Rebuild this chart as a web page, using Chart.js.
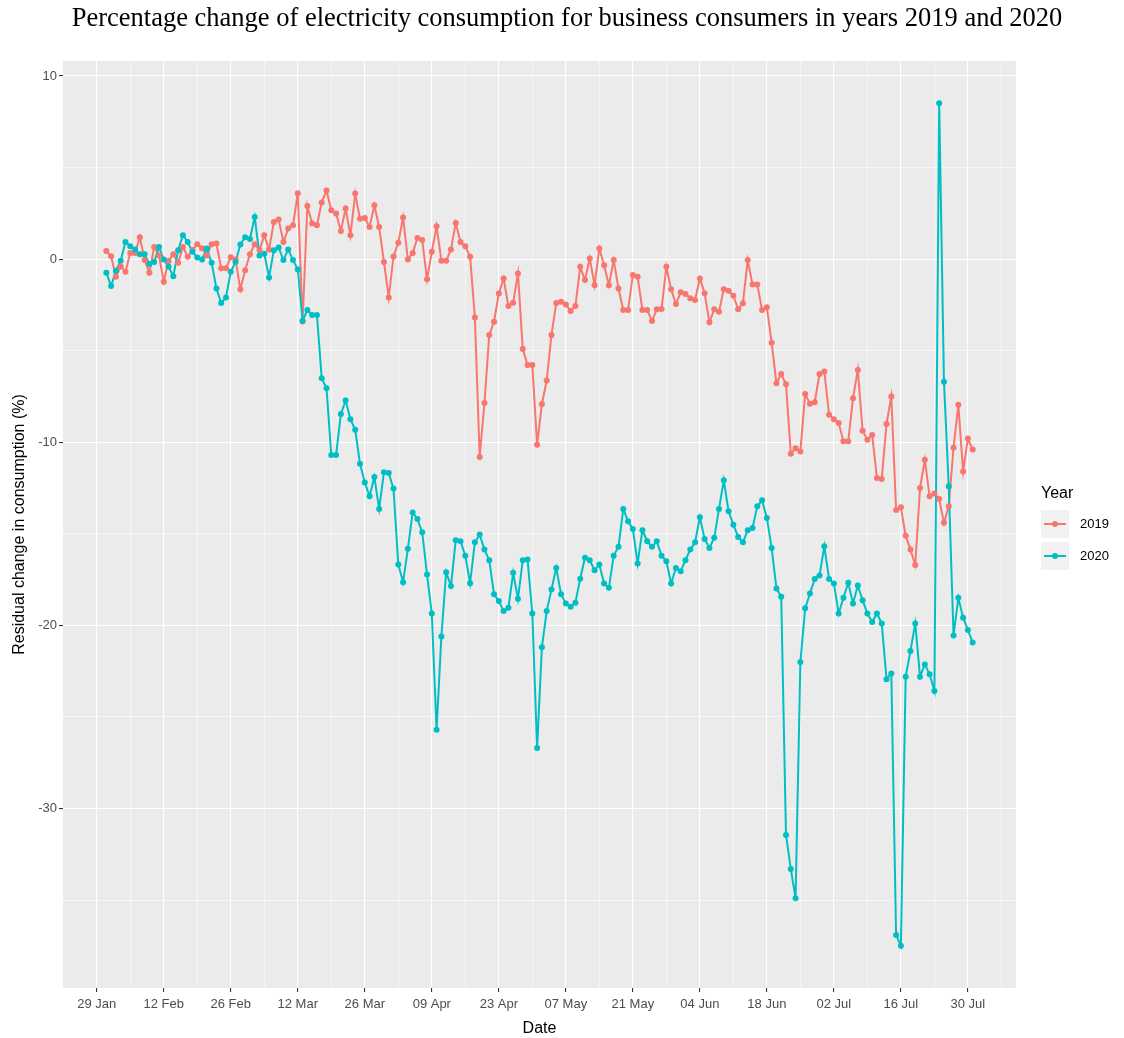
<!DOCTYPE html>
<html>
<head>
<meta charset="utf-8">
<script src="https://cdn.jsdelivr.net/npm/chart.js@4.4.1/dist/chart.umd.min.js"></script>
<style>
  html, body { margin: 0; padding: 0; background: #ffffff; }
  #wrap { width: 1124px; height: 1038px; }
</style>
</head>
<body>
<div id="wrap"><canvas id="chart" width="1124" height="1038"></canvas></div>
<script>
// Days are counted from 29 Jan; both series start on 31 Jan (day 2), one value per day.
const firstDay = 2;
const years = ['2019', '2020'];
const colours = ['#F8766D', '#00BFC4'];

const change2019 = [
  0.45, 0.16, -0.96, -0.4, -0.69, 0.34, 0.34, 1.2, -0.05, -0.74,
  0.67, 0.2, -1.23, -0.1, 0.27, -0.2, 0.67, 0.13, 0.5, 0.82,
  0.6, 0.2, 0.82, 0.85, -0.5, -0.5, 0.1, -0.02, -1.65, -0.6,
  0.27, 0.82, 0.5, 1.3, 0.53, 2.03, 2.16, 0.94, 1.67, 1.85,
  3.6, -3.4, 2.9, 1.95, 1.85, 3.1, 3.75, 2.67, 2.5, 1.54,
  2.76, 1.3, 3.58, 2.2, 2.25, 1.76, 2.94, 1.76, -0.15, -2.09,
  0.15, 0.9, 2.27, -0.02, 0.34, 1.16, 1.04, -1.1, 0.4, 1.8,
  -0.09, -0.09, 0.53, 1.98, 0.94, 0.71, 0.13, -3.18, -10.8, -7.86,
  -4.14, -3.42, -1.87, -1.05, -2.56, -2.38, -0.78, -4.9, -5.78, -5.78,
  -10.14, -7.92, -6.63, -4.14, -2.4, -2.33, -2.47, -2.83, -2.56, -0.42,
  -1.14, 0.04, -1.42, 0.58, -0.33, -1.42, -0.05, -1.6, -2.78, -2.78,
  -0.87, -0.96, -2.78, -2.78, -3.38, -2.74, -2.72, -0.42, -1.65, -2.45,
  -1.81, -1.9, -2.14, -2.23, -1.05, -1.86, -3.45, -2.74, -2.87, -1.65,
  -1.73, -2.0, -2.74, -2.41, -0.05, -1.38, -1.38, -2.78, -2.63, -4.56,
  -6.77, -6.27, -6.83, -10.63, -10.32, -10.5, -7.36, -7.9, -7.81, -6.27,
  -6.14, -8.5, -8.74, -8.95, -9.95, -9.95, -7.59, -6.05, -9.37, -9.86,
  -9.6, -11.95, -12.0, -9.0, -7.5, -13.7, -13.55, -15.1, -15.86, -16.7,
  -12.5, -10.95, -12.95, -12.8, -13.1, -14.4, -13.5, -10.3, -7.95, -11.6,
  -9.8, -10.4
];

const change2020 = [
  -0.74, -1.47, -0.63, -0.09, 0.94, 0.71, 0.53, 0.27, 0.27, -0.27,
  -0.15, 0.67, -0.02, -0.4, -0.93, 0.49, 1.31, 0.94, 0.4, 0.09,
  -0.02, 0.58, -0.2, -1.6, -2.4, -2.09, -0.69, -0.15, 0.8, 1.2,
  1.1, 2.3, 0.2, 0.3, -1.0, 0.49, 0.64, -0.05, 0.53, -0.05,
  -0.56, -3.36, -2.78, -3.05, -3.05, -6.5, -7.05, -10.7, -10.7, -8.46,
  -7.72, -8.74, -9.32, -11.17, -12.19, -12.95, -11.9, -13.64, -11.64, -11.68,
  -12.53, -16.68, -17.64, -15.82, -13.83, -14.19, -14.92, -17.22, -19.35, -25.7,
  -20.6, -17.1, -17.85, -15.35, -15.4, -16.2, -17.7, -15.46, -15.04, -15.86,
  -16.44, -18.3, -18.67, -19.22, -19.04, -17.13, -18.55, -16.44, -16.4, -19.35,
  -26.7, -21.2, -19.22, -18.04, -16.86, -18.3, -18.8, -18.98, -18.76, -17.45,
  -16.31, -16.44, -16.99, -16.68, -17.71, -17.95, -16.19, -15.7, -13.64, -14.31,
  -14.73, -16.62, -14.8, -15.4, -15.71, -15.4, -16.19, -16.5, -17.71, -16.86,
  -17.04, -16.44, -15.86, -15.46, -14.1, -15.28, -15.77, -15.22, -13.64, -12.08,
  -13.77, -14.5, -15.17, -15.46, -14.8, -14.68, -13.5, -13.17, -14.13, -15.77,
  -17.98, -18.44, -31.44, -33.3, -34.9, -22.0, -19.07, -18.26, -17.46, -17.28,
  -15.68, -17.46, -17.71, -19.35, -18.49, -17.67, -18.8, -17.82, -18.62, -19.35,
  -19.82, -19.35, -19.89, -22.94, -22.62, -36.9, -37.5, -22.8, -21.4, -19.89,
  -22.8, -22.13, -22.67, -23.58, 8.52, -6.69, -12.4, -20.55, -18.49, -19.58,
  -20.25, -20.94
];

// Date breaks every 14 days from 29 Jan; minor grid halfway between.
const tickLabels = ['29 Jan', '12 Feb', '26 Feb', '12 Mar', '26 Mar', '09 Apr', '23 Apr',
                    '07 May', '21 May', '04 Jun', '18 Jun', '02 Jul', '16 Jul', '30 Jul'];
const yBreaks = [10, 0, -10, -20, -30];

const titleText = 'Percentage change of electricity consumption for business consumers in years 2019 and 2020';
const xTitle = 'Date';
const yTitle = 'Residual change in consumption (%)';
const legendTitle = 'Year';

const toPoints = vals => vals.map((v, i) => ({ x: firstDay + i, y: v }));
const series = [change2019, change2020];

// ggplot-style: both lines first, then both point layers on top
const datasets = [];
series.forEach((vals, k) => {
  datasets.push({
    label: years[k] + ' line', data: toPoints(vals), borderColor: colours[k],
    borderWidth: 2, pointRadius: 0, pointHoverRadius: 0, tension: 0, order: 10 - k
  });
});
series.forEach((vals, k) => {
  datasets.push({
    label: years[k], data: toPoints(vals), showLine: false, pointRadius: 3,
    pointBackgroundColor: colours[k], pointBorderWidth: 0, pointHoverRadius: 3, order: 5 - k
  });
});

const step = 14;
const dataMin = firstDay, dataMax = firstDay + change2019.length - 1;
const allVals = change2019.concat(change2020);
const yMin = Math.min(...allVals), yMax = Math.max(...allVals);
const xPad = (dataMax - dataMin) * 0.05, yPad = (yMax - yMin) * 0.05;

const sansFont = '"Liberation Sans", Arial, sans-serif';

const panelBg = {
  id: 'panelBg',
  beforeDraw(chart) {
    const { ctx, chartArea: a } = chart;
    ctx.save();
    ctx.fillStyle = '#EBEBEB';
    ctx.fillRect(a.left, a.top, a.right - a.left, a.bottom - a.top);
    ctx.restore();
  }
};

const titleAndLegend = {
  id: 'titleAndLegend',
  afterDraw(chart) {
    const ctx = chart.ctx;
    ctx.save();
    ctx.fillStyle = '#000000';
    ctx.font = '26.5px "Liberation Serif", "Times New Roman", serif';
    ctx.textAlign = 'center';
    ctx.textBaseline = 'middle';
    ctx.fillText(titleText, 567, 19);

    // legend
    ctx.textAlign = 'left';
    ctx.font = '16px ' + sansFont;
    ctx.fillText(legendTitle, 1041, 494);
    const keyX = 1041, keyW = 28, keyH = 28, keyTop0 = 510, gap = 32;
    years.forEach((y, k) => {
      const top = keyTop0 + k * gap;
      ctx.fillStyle = '#F2F2F2';
      ctx.fillRect(keyX, top, keyW, keyH);
      const cy = top + keyH / 2;
      ctx.strokeStyle = colours[k];
      ctx.lineWidth = 2;
      ctx.beginPath();
      ctx.moveTo(keyX + 3, cy);
      ctx.lineTo(keyX + keyW - 3, cy);
      ctx.stroke();
      ctx.fillStyle = colours[k];
      ctx.beginPath();
      ctx.arc(keyX + keyW / 2, cy, 3, 0, Math.PI * 2);
      ctx.fill();
      ctx.fillStyle = '#000000';
      ctx.font = '13px ' + sansFont;
      ctx.fillText(y, keyX + keyW + 11, cy);
    });
    ctx.restore();
  }
};

new Chart(document.getElementById('chart'), {
  type: 'line',
  data: { datasets },
  plugins: [panelBg, titleAndLegend],
  options: {
    responsive: false,
    animation: false,
    devicePixelRatio: 1,
    layout: { padding: { left: 0, top: 61, right: 108, bottom: 0 } },
    plugins: { legend: { display: false }, tooltip: { enabled: false }, title: { display: false } },
    scales: {
      x: {
        type: 'linear',
        min: dataMin - xPad,
        max: dataMax + xPad,
        afterBuildTicks(s) {
          const t = [];
          for (let v = 0; v <= s.max; v += step / 2) t.push({ value: v });
          s.ticks = t;
        },
        afterFit(s) { s.height = 50; },
        border: { display: false },
        grid: {
          color: '#FFFFFF',
          lineWidth: c => (c.tick && c.tick.value % step === 0 ? 1.1 : 0.55),
          drawTicks: true,
          tickLength: 4,
          tickWidth: 1.1,
          tickColor: c => (c.tick && c.tick.value % step === 0 ? '#333333' : 'rgba(0,0,0,0)')
        },
        ticks: {
          autoSkip: false, maxRotation: 0, padding: 5,
          color: '#4D4D4D', font: { family: sansFont, size: 13 },
          callback: v => (v % step === 0 ? tickLabels[v / step] : '')
        },
        title: {
          display: true, text: xTitle, color: '#000000',
          font: { family: sansFont, size: 16 }, padding: { top: 2, bottom: 0 }
        }
      },
      y: {
        type: 'linear',
        min: yMin - yPad,
        max: yMax + yPad,
        afterBuildTicks(s) {
          const t = [];
          for (let v = Math.ceil(s.min / 5) * 5; v <= s.max; v += 5) t.push({ value: v });
          s.ticks = t;
        },
        afterFit(s) { s.width = 63; },
        border: { display: false },
        grid: {
          color: '#FFFFFF',
          lineWidth: c => (c.tick && yBreaks.includes(c.tick.value) ? 1.1 : 0.55),
          drawTicks: true,
          tickLength: 4,
          tickWidth: 1.1,
          tickColor: c => (c.tick && yBreaks.includes(c.tick.value) ? '#333333' : 'rgba(0,0,0,0)')
        },
        ticks: {
          padding: 2, color: '#4D4D4D', font: { family: sansFont, size: 13 },
          callback: v => (yBreaks.includes(v) ? String(v) : '')
        },
        title: {
          display: true, text: yTitle, color: '#000000',
          font: { family: sansFont, size: 16 }, padding: { top: 10, bottom: 2 }
        }
      }
    }
  }
});
</script>
</body>
</html>
